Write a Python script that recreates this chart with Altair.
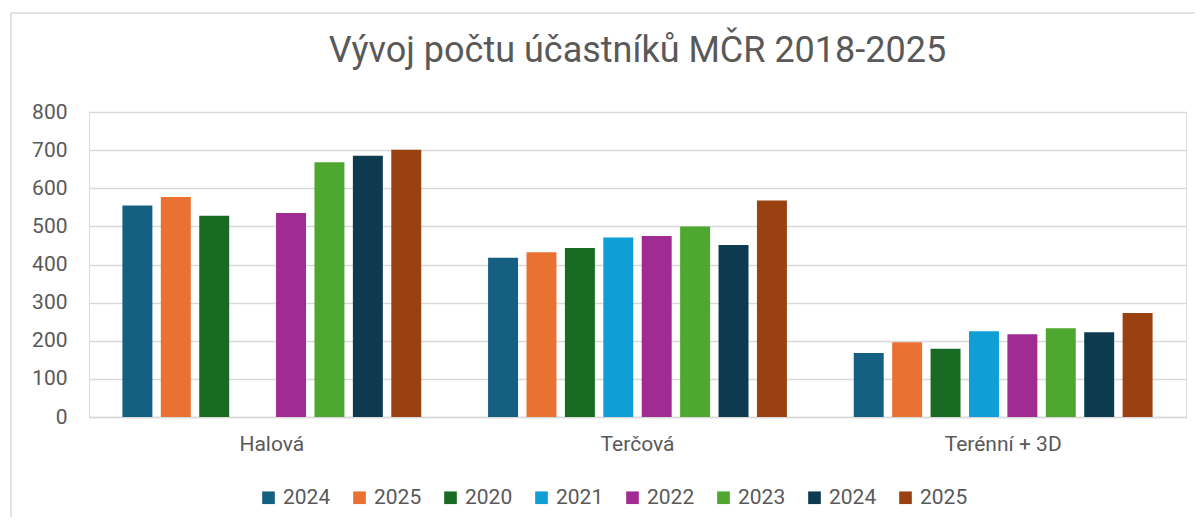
import altair as alt
import pandas as pd

categories = ["Halová", "Terčová", "Terénní + 3D"]
series_keys = ["s1", "s2", "s3", "s4", "s5", "s6", "s7", "s8"]
series_labels = ["2024", "2025", "2020", "2021", "2022", "2023", "2024", "2025"]
colors = ["#156082", "#E97132", "#196B24", "#0F9ED5", "#A02B93", "#4EA72E", "#0D3A4E", "#994111"]

halova = [555, 577, 528, None, 535, 668, 685, 701]
tercova = [418, 432, 443, 471, 475, 500, 451, 568]
terenni = [168, 196, 179, 225, 217, 233, 222, 273]

rows = []
for cat, vals in zip(categories, [halova, tercova, terenni]):
    for k, v in zip(series_keys, vals):
        if v is not None:
            rows.append({"kategorie": cat, "serie": k, "pocet": v})
df = pd.DataFrame(rows)

label_expr = "[" + ",".join(f"'{l}'" for l in series_labels) + "][indexof([" + ",".join(
    f"'{k}'" for k in series_keys) + "], datum.value)]"

FONT = "Roboto"
GREY = "#595959"
FS = 21

bars = alt.Chart(df).mark_bar().encode(
    x=alt.X("kategorie:N", sort=categories, title=None,
            scale=alt.Scale(paddingInner=0, paddingOuter=0),
            axis=alt.Axis(labelAngle=0, ticks=False, domainColor="#d9d9d9", domainWidth=1.5,
                          labelFontSize=FS, labelColor=GREY, labelFont=FONT, labelPadding=16)),
    xOffset=alt.XOffset("serie:N", sort=series_keys,
                        scale=alt.Scale(domain=series_keys, paddingInner=0.22, paddingOuter=0.87)),
    y=alt.Y("pocet:Q", title=None,
            scale=alt.Scale(domain=[0, 800]),
            axis=alt.Axis(values=list(range(0, 801, 100)), domain=False, ticks=False,
                          gridColor="#d9d9d9", gridWidth=1.5, labelFontSize=FS, labelColor=GREY,
                          labelFont=FONT, labelPadding=22)),
    color=alt.Color("serie:N", sort=series_keys,
                    scale=alt.Scale(domain=series_keys, range=colors),
                    legend=alt.Legend(title=None, orient="none", legendX=169, legendY=375,
                                      direction="horizontal", columns=8, symbolType="square",
                                      symbolSize=160, symbolStrokeWidth=0, labelFontSize=FS,
                                      labelColor=GREY, labelFont=FONT, columnPadding=18,
                                      labelOffset=4,
                                      labelExpr=label_expr, symbolOpacity=1)),
)

border = alt.Chart(alt.Data(values=[{}])).mark_rect(
    fill=None, stroke="#d9d9d9", strokeWidth=1.5
).encode(x=alt.value(-78), x2=alt.value(1300), y=alt.value(-99), y2=alt.value(700))

chart = alt.layer(border, bars).properties(
    width=1097, height=305,
    title=alt.TitleParams("Vývoj počtu účastníků MČR 2018-2025", fontSize=36, font=FONT,
                          color=GREY, fontWeight="normal", anchor="middle", offset=-86,
                          baseline="alphabetic"),
    autosize=alt.AutoSizeParams(type="none"),
    padding={"left": 81, "top": 104, "right": 9, "bottom": 100},
).configure_view(stroke=None).configure(background="white")

chart.save("out.html", embed_options={"renderer": "svg", "actions": False})
